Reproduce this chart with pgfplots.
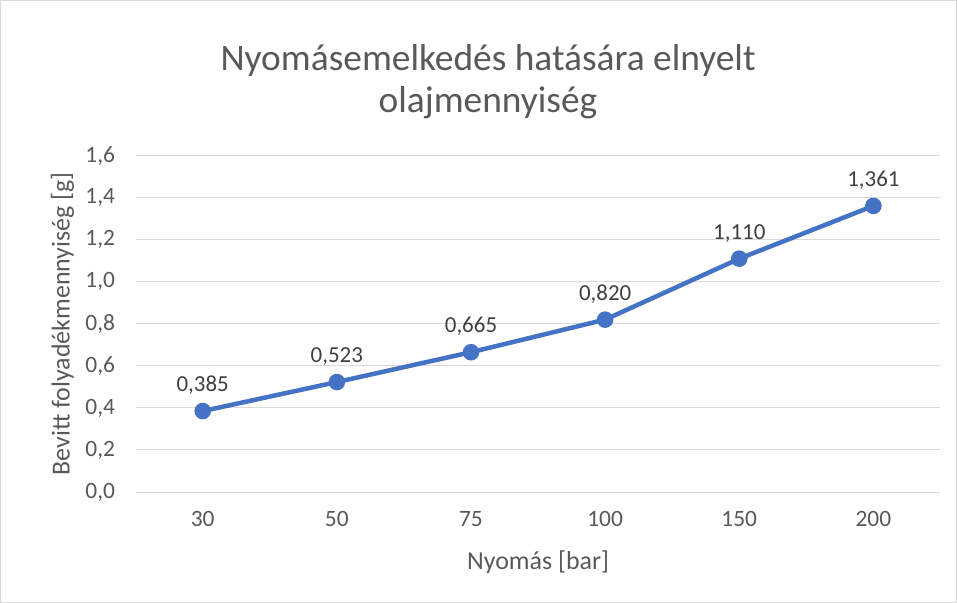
\documentclass[border=0pt]{standalone}
\usepackage{pgfplots}
\pgfplotsset{compat=1.18}
\usepackage{fontspec}
\setmainfont{Carlito}
\definecolor{txt}{RGB}{89,89,89}
\definecolor{grid}{RGB}{217,217,217}
\definecolor{ser}{RGB}{68,114,196}
\begin{document}
\begin{tikzpicture}
\begin{axis}[
  at={(0bp,0bp)}, anchor=south west,
  scale only axis, width=804bp, height=336bp,
  xmin=-0.5, xmax=5.5, ymin=0, ymax=1.6,
  xtick={0,1,2,3,4,5}, xticklabels={30,50,75,100,150,200},
  ytick={0,0.2,0.4,0.6,0.8,1.0,1.2,1.4,1.6},
  ymajorgrids, xmajorgrids=false,
  y grid style={grid, line width=1pt},
  axis line style={draw=none},
  major tick length=0pt,
  tick label style={font=\fontsize{23.5}{25}\selectfont, text=txt},
  /pgf/number format/.cd, fixed, fixed zerofill, precision=1, use comma, assume math mode=true,
  /pgfplots/.cd,
  yticklabel style={xshift=-17bp},
  xticklabel style={yshift=-16bp},
  clip=false,
]
\addplot[ser, line width=4.5bp, mark=*, mark size=6bp, mark options={fill=ser, draw=ser},
  nodes near coords, point meta=explicit symbolic,
  every node near coord/.style={font=\fontsize{23}{25}\selectfont, text=black!75, anchor=south, yshift=11bp}]
coordinates {(0,0.385)[0,385] (1,0.523)[0,523] (2,0.665)[0,665] (3,0.820)[0,820] (4,1.110)[1,110] (5,1.361)[1,361]};
\end{axis}
\node[font=\fontsize{37.5}{42}\selectfont, text=txt, align=center] at (352bp,410bp) {Nyomásemelkedés hatására elnyelt\\olajmennyiség};
\node[font=\fontsize{26}{28}\selectfont, text=txt, rotate=90] at (-73bp,168bp) {Bevitt folyadékmennyiség [g]};
\node[font=\fontsize{26}{28}\selectfont, text=txt] at (402bp,-70bp) {Nyomás [bar]};
\draw[grid, line width=1bp] (-135bp,-110bp) rectangle (820bp,491bp);
\end{tikzpicture}
\end{document}
